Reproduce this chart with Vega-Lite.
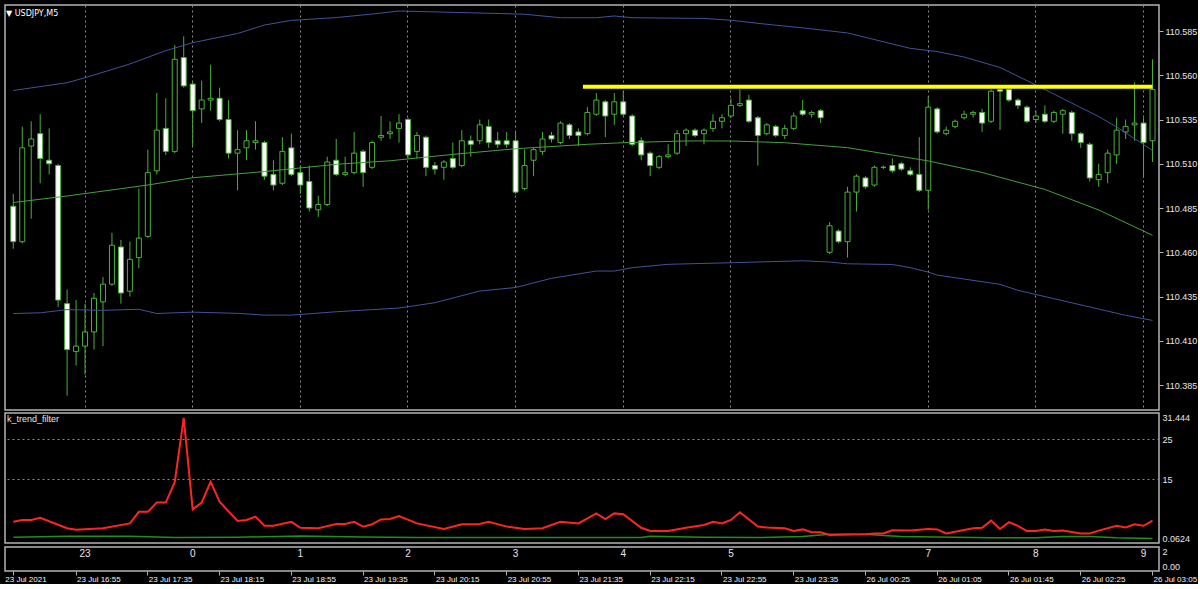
{
  "$schema": "https://vega.github.io/schema/vega-lite/v6.json",
  "background": "#000000",
  "padding": {"left": 4, "top": 4, "right": 0, "bottom": 0},
  "spacing": 1,
  "config": {
    "view": {"stroke": "#b4b4b4", "strokeWidth": 1.5},
    "axis": {"labelFont": "Liberation Sans", "labelColor": "#e8e8e8", "labelFontSize": 9, "title": null, "tickColor": "#b4b4b4"}
  },
  "resolve": {"scale": {"x": "shared", "y": "independent"}},
  "datasets": {
    "bars": [
      {"t":"23 Jul 16:20","o":110.486,"h":110.493,"l":110.462,"c":110.466,"u":110.5514,"lo":110.4254,"ma":110.4881,"k":4.3,"g":0.45},
      {"t":"23 Jul 16:25","o":110.466,"h":110.531,"l":110.465,"c":110.519,"k":4.75},
      {"t":"23 Jul 16:30","o":110.520,"h":110.534,"l":110.479,"c":110.524,"k":4.75},
      {"t":"23 Jul 16:35","o":110.527,"h":110.538,"l":110.499,"c":110.513,"lo":110.4258,"k":5.3},
      {"t":"23 Jul 16:40","o":110.512,"h":110.530,"l":110.504,"c":110.510},
      {"t":"23 Jul 16:45","o":110.509,"h":110.510,"l":110.429,"c":110.433},
      {"t":"23 Jul 16:50","o":110.431,"h":110.439,"l":110.379,"c":110.405,"u":110.5558,"lo":110.4276,"ma":110.4918,"k":2.7,"g":0.7},
      {"t":"23 Jul 16:55","o":110.404,"h":110.433,"l":110.396,"c":110.407,"k":2.3},
      {"t":"23 Jul 17:00","o":110.407,"h":110.431,"l":110.391,"c":110.415,"u":110.5586},
      {"t":"23 Jul 17:05","o":110.415,"h":110.437,"l":110.405,"c":110.434},
      {"t":"23 Jul 17:10","o":110.432,"h":110.446,"l":110.407,"c":110.442,"lo":110.4272,"k":2.7},
      {"t":"23 Jul 17:15","o":110.442,"h":110.471,"l":110.441,"c":110.464},
      {"t":"23 Jul 17:20","o":110.463,"h":110.467,"l":110.431,"c":110.437},
      {"t":"23 Jul 17:25","o":110.438,"h":110.466,"l":110.435,"c":110.456,"u":110.5664,"k":3.9,"g":0.7},
      {"t":"23 Jul 17:30","o":110.457,"h":110.496,"l":110.451,"c":110.468,"lo":110.4278,"k":6.8},
      {"t":"23 Jul 17:35","o":110.469,"h":110.518,"l":110.468,"c":110.505,"ma":110.498,"k":6.8},
      {"t":"23 Jul 17:40","o":110.506,"h":110.550,"l":110.504,"c":110.529,"lo":110.4254,"k":9.1},
      {"t":"23 Jul 17:45","o":110.530,"h":110.547,"l":110.515,"c":110.517,"u":110.5739,"k":9.1},
      {"t":"23 Jul 17:50","o":110.517,"h":110.577,"l":110.516,"c":110.569,"k":14.2,"g":0.4},
      {"t":"23 Jul 17:55","o":110.570,"h":110.582,"l":110.553,"c":110.554,"k":30.3},
      {"t":"23 Jul 18:00","o":110.555,"h":110.556,"l":110.520,"c":110.540,"u":110.5784,"lo":110.4262,"ma":110.5021,"k":7.4},
      {"t":"23 Jul 18:05","o":110.541,"h":110.557,"l":110.533,"c":110.546,"k":9.1},
      {"t":"23 Jul 18:10","o":110.546,"h":110.566,"l":110.540,"c":110.547,"k":14.3},
      {"t":"23 Jul 18:15","o":110.547,"h":110.553,"l":110.534,"c":110.535,"k":9.3},
      {"t":"23 Jul 18:20","o":110.535,"h":110.546,"l":110.513,"c":110.516},
      {"t":"23 Jul 18:25","o":110.516,"h":110.529,"l":110.495,"c":110.518,"u":110.5836,"lo":110.4255,"k":4.5,"g":0.45},
      {"t":"23 Jul 18:30","o":110.519,"h":110.529,"l":110.512,"c":110.523,"k":4.75},
      {"t":"23 Jul 18:35","o":110.522,"h":110.534,"l":110.518,"c":110.523,"k":5.6},
      {"t":"23 Jul 18:40","o":110.522,"h":110.523,"l":110.501,"c":110.503,"u":110.5884,"lo":110.4245,"ma":110.5056,"k":3.3},
      {"t":"23 Jul 18:45","o":110.504,"h":110.512,"l":110.495,"c":110.498,"k":3.3},
      {"t":"23 Jul 18:50","o":110.499,"h":110.525,"l":110.498,"c":110.517},
      {"t":"23 Jul 18:55","o":110.519,"h":110.527,"l":110.503,"c":110.504,"u":110.591,"lo":110.4245,"k":4.3},
      {"t":"23 Jul 19:00","o":110.505,"h":110.509,"l":110.493,"c":110.498,"k":2.8,"g":0.75},
      {"t":"23 Jul 19:05","o":110.500,"h":110.509,"l":110.483,"c":110.485},
      {"t":"23 Jul 19:10","o":110.484,"h":110.492,"l":110.480,"c":110.487,"k":2.7},
      {"t":"23 Jul 19:15","o":110.487,"h":110.514,"l":110.486,"c":110.511},
      {"t":"23 Jul 19:20","o":110.512,"h":110.524,"l":110.503,"c":110.504,"u":110.5926,"lo":110.4264,"ma":110.5097,"k":3.75},
      {"t":"23 Jul 19:25","o":110.504,"h":110.514,"l":110.503,"c":110.505,"k":3.75},
      {"t":"23 Jul 19:30","o":110.505,"h":110.528,"l":110.504,"c":110.516,"k":4.3},
      {"t":"23 Jul 19:35","o":110.517,"h":110.518,"l":110.497,"c":110.505,"k":3.1,"g":0.5},
      {"t":"23 Jul 19:40","o":110.508,"h":110.523,"l":110.507,"c":110.522,"u":110.5946,"k":3.7},
      {"t":"23 Jul 19:45","o":110.525,"h":110.537,"l":110.523,"c":110.526,"k":4.9},
      {"t":"23 Jul 19:50","o":110.527,"h":110.534,"l":110.524,"c":110.528,"ma":110.5117,"k":5},
      {"t":"23 Jul 19:55","o":110.530,"h":110.538,"l":110.522,"c":110.533,"u":110.5963,"lo":110.4285,"k":5.75},
      {"t":"23 Jul 20:00","o":110.535,"h":110.536,"l":110.513,"c":110.515},
      {"t":"23 Jul 20:05","o":110.517,"h":110.528,"l":110.513,"c":110.526,"k":3.9,"g":0.35},
      {"t":"23 Jul 20:10","o":110.525,"h":110.526,"l":110.503,"c":110.508},
      {"t":"23 Jul 20:15","o":110.509,"h":110.511,"l":110.504,"c":110.507,"lo":110.4315},
      {"t":"23 Jul 20:20","o":110.508,"h":110.512,"l":110.501,"c":110.511,"k":2.5},
      {"t":"23 Jul 20:25","o":110.513,"h":110.522,"l":110.507,"c":110.508,"ma":110.5153},
      {"t":"23 Jul 20:30","o":110.509,"h":110.529,"l":110.508,"c":110.523,"k":3.7},
      {"t":"23 Jul 20:35","o":110.523,"h":110.526,"l":110.514,"c":110.521,"u":110.5953},
      {"t":"23 Jul 20:40","o":110.523,"h":110.535,"l":110.521,"c":110.532,"lo":110.4381,"k":3.75},
      {"t":"23 Jul 20:45","o":110.531,"h":110.535,"l":110.519,"c":110.522,"k":4.3},
      {"t":"23 Jul 20:50","o":110.523,"h":110.528,"l":110.519,"c":110.521,"g":0.4},
      {"t":"23 Jul 20:55","o":110.523,"h":110.528,"l":110.519,"c":110.521,"k":3.1},
      {"t":"23 Jul 21:00","o":110.523,"h":110.528,"l":110.493,"c":110.494,"lo":110.4401,"ma":110.5185},
      {"t":"23 Jul 21:05","o":110.496,"h":110.518,"l":110.495,"c":110.509,"u":110.5945,"k":2.5},
      {"t":"23 Jul 21:10","o":110.512,"h":110.519,"l":110.503,"c":110.518},
      {"t":"23 Jul 21:15","o":110.517,"h":110.528,"l":110.515,"c":110.524,"k":2.7},
      {"t":"23 Jul 21:20","o":110.526,"h":110.528,"l":110.522,"c":110.524,"lo":110.4453},
      {"t":"23 Jul 21:25","o":110.522,"h":110.534,"l":110.521,"c":110.533,"u":110.5925,"k":4.3,"g":0.35},
      {"t":"23 Jul 21:30","o":110.532,"h":110.533,"l":110.524,"c":110.526},
      {"t":"23 Jul 21:35","o":110.528,"h":110.530,"l":110.520,"c":110.526,"k":3.9},
      {"t":"23 Jul 21:40","o":110.527,"h":110.542,"l":110.526,"c":110.539,"ma":110.521},
      {"t":"23 Jul 21:45","o":110.538,"h":110.550,"l":110.537,"c":110.546,"u":110.5925,"lo":110.4494,"k":6.4},
      {"t":"23 Jul 21:50","o":110.545,"h":110.546,"l":110.525,"c":110.537,"k":5},
      {"t":"23 Jul 21:55","o":110.538,"h":110.550,"l":110.532,"c":110.545,"u":110.5935,"lo":110.4494,"k":6.4},
      {"t":"23 Jul 22:00","o":110.545,"h":110.551,"l":110.537,"c":110.538,"ma":110.5219,"k":6.2},
      {"t":"23 Jul 22:05","o":110.537,"h":110.538,"l":110.520,"c":110.521,"u":110.5925,"lo":110.4513},
      {"t":"23 Jul 22:10","o":110.523,"h":110.525,"l":110.512,"c":110.515,"k":2.8,"g":0.35},
      {"t":"23 Jul 22:15","o":110.516,"h":110.517,"l":110.503,"c":110.509,"k":2,"g":0.7},
      {"t":"23 Jul 22:20","o":110.508,"h":110.515,"l":110.507,"c":110.514},
      {"t":"23 Jul 22:25","o":110.514,"h":110.521,"l":110.513,"c":110.515,"lo":110.4532,"k":2},
      {"t":"23 Jul 22:30","o":110.516,"h":110.529,"l":110.515,"c":110.527},
      {"t":"23 Jul 22:35","o":110.527,"h":110.530,"l":110.520,"c":110.529,"ma":110.5229,"k":2.8},
      {"t":"23 Jul 22:40","o":110.529,"h":110.530,"l":110.525,"c":110.526},
      {"t":"23 Jul 22:45","o":110.527,"h":110.530,"l":110.521,"c":110.529,"u":110.5921,"k":3.5,"g":0.45},
      {"t":"23 Jul 22:50","o":110.530,"h":110.538,"l":110.528,"c":110.534,"k":4.3},
      {"t":"23 Jul 22:55","o":110.534,"h":110.538,"l":110.530,"c":110.536,"k":3.9},
      {"t":"23 Jul 23:00","o":110.537,"h":110.547,"l":110.536,"c":110.543,"u":110.5911,"lo":110.4541,"ma":110.5229,"k":4.75},
      {"t":"23 Jul 23:05","o":110.543,"h":110.552,"l":110.542,"c":110.544,"k":6.7},
      {"t":"23 Jul 23:10","o":110.546,"h":110.549,"l":110.533,"c":110.534},
      {"t":"23 Jul 23:15","o":110.536,"h":110.537,"l":110.509,"c":110.526,"k":3.1,"g":0.35},
      {"t":"23 Jul 23:20","o":110.527,"h":110.533,"l":110.526,"c":110.532,"u":110.5888,"k":2.9},
      {"t":"23 Jul 23:25","o":110.531,"h":110.532,"l":110.525,"c":110.526},
      {"t":"23 Jul 23:30","o":110.526,"h":110.532,"l":110.524,"c":110.530,"ma":110.5219,"k":2.7},
      {"t":"23 Jul 23:35","o":110.530,"h":110.539,"l":110.529,"c":110.537,"k":2},
      {"t":"23 Jul 23:40","o":110.540,"h":110.546,"l":110.537,"c":110.538,"u":110.5868,"lo":110.4552,"k":2.4,"g":0.6},
      {"t":"23 Jul 23:45","o":110.538,"h":110.540,"l":110.536,"c":110.539,"k":1.7},
      {"t":"23 Jul 23:50","o":110.540,"h":110.541,"l":110.533,"c":110.536,"k":1.7},
      {"t":"26 Jul 00:05","o":110.460,"h":110.477,"l":110.459,"c":110.475,"lo":110.4545,"k":1.0,"g":1.2},
      {"t":"26 Jul 00:10","o":110.472,"h":110.473,"l":110.465,"c":110.466},
      {"t":"26 Jul 00:15","o":110.466,"h":110.497,"l":110.457,"c":110.494,"u":110.5839,"lo":110.4535,"ma":110.5191},
      {"t":"26 Jul 00:20","o":110.494,"h":110.504,"l":110.483,"c":110.503},
      {"t":"26 Jul 00:25","o":110.502,"h":110.503,"l":110.496,"c":110.497,"k":1.2,"g":1.2},
      {"t":"26 Jul 00:30","o":110.498,"h":110.509,"l":110.497,"c":110.508,"k":1.4},
      {"t":"26 Jul 00:35","o":110.508,"h":110.509,"l":110.507,"c":110.508,"k":1.4,"g":0.9},
      {"t":"26 Jul 00:40","o":110.509,"h":110.513,"l":110.505,"c":110.506,"lo":110.4531,"k":2.2},
      {"t":"26 Jul 00:45","o":110.510,"h":110.511,"l":110.506,"c":110.507,"g":0.6},
      {"t":"26 Jul 00:50","o":110.506,"h":110.508,"l":110.503,"c":110.504,"u":110.5752,"lo":110.4513,"k":2.1},
      {"t":"26 Jul 00:55","o":110.504,"h":110.525,"l":110.494,"c":110.495},
      {"t":"26 Jul 01:00","o":110.495,"h":110.548,"l":110.484,"c":110.542,"lo":110.4488,"ma":110.5116,"k":2.5},
      {"t":"26 Jul 01:05","o":110.541,"h":110.542,"l":110.527,"c":110.528,"u":110.5734,"lo":110.4471,"k":2.4,"g":0.5},
      {"t":"26 Jul 01:10","o":110.527,"h":110.531,"l":110.526,"c":110.529,"k":1.4},
      {"t":"26 Jul 01:15","o":110.531,"h":110.535,"l":110.530,"c":110.534},
      {"t":"26 Jul 01:20","o":110.536,"h":110.540,"l":110.535,"c":110.538,"u":110.5703,"k":2.25},
      {"t":"26 Jul 01:25","o":110.538,"h":110.540,"l":110.536,"c":110.539,"k":2.7},
      {"t":"26 Jul 01:30","o":110.539,"h":110.541,"l":110.528,"c":110.533,"ma":110.5051,"k":2.8},
      {"t":"26 Jul 01:35","o":110.534,"h":110.552,"l":110.533,"c":110.551,"k":4.6,"g":0.33},
      {"t":"26 Jul 01:40","o":110.552,"h":110.553,"l":110.529,"c":110.551,"u":110.5644,"lo":110.4419,"k":2.5},
      {"t":"26 Jul 01:45","o":110.552,"h":110.553,"l":110.545,"c":110.546,"k":4.2},
      {"t":"26 Jul 01:50","o":110.546,"h":110.547,"l":110.541,"c":110.543,"lo":110.4385,"k":3.3},
      {"t":"26 Jul 01:55","o":110.542,"h":110.543,"l":110.533,"c":110.534,"k":2},
      {"t":"26 Jul 02:00","o":110.535,"h":110.540,"l":110.533,"c":110.537,"u":110.5545,"k":2,"g":0.33},
      {"t":"26 Jul 02:05","o":110.538,"h":110.543,"l":110.533,"c":110.534,"ma":110.4955,"k":2.4},
      {"t":"26 Jul 02:10","o":110.534,"h":110.540,"l":110.533,"c":110.539,"lo":110.4338,"k":2},
      {"t":"26 Jul 02:15","o":110.538,"h":110.541,"l":110.527,"c":110.540,"k":2.1,"g":0.6},
      {"t":"26 Jul 02:20","o":110.539,"h":110.540,"l":110.523,"c":110.527,"u":110.5443},
      {"t":"26 Jul 02:25","o":110.527,"h":110.528,"l":110.519,"c":110.522,"k":1.4},
      {"t":"26 Jul 02:30","o":110.521,"h":110.522,"l":110.500,"c":110.502,"lo":110.4291,"k":1.4,"g":0.6},
      {"t":"26 Jul 02:35","o":110.501,"h":110.510,"l":110.497,"c":110.504,"u":110.5367,"ma":110.4839,"k":2.1},
      {"t":"26 Jul 02:40","o":110.505,"h":110.518,"l":110.499,"c":110.516},
      {"t":"26 Jul 02:45","o":110.515,"h":110.536,"l":110.510,"c":110.529,"u":110.5308,"k":3.3,"g":0.3},
      {"t":"26 Jul 02:50","o":110.528,"h":110.535,"l":110.524,"c":110.531,"lo":110.4244,"k":2.9},
      {"t":"26 Jul 02:55","o":110.532,"h":110.556,"l":110.523,"c":110.533,"k":3.7},
      {"t":"26 Jul 03:00","o":110.533,"h":110.536,"l":110.502,"c":110.522,"k":3.3},
      {"t":"26 Jul 03:05","o":110.523,"h":110.569,"l":110.511,"c":110.552,"u":110.5175,"lo":110.4215,"ma":110.4696,"k":4.6,"g":0.15}
    ],
    "level": [{"t1": "23 Jul 21:35", "t2": "26 Jul 03:05", "p": 110.5535}],
    "hours": [
      {"t": "23 Jul 17:00", "hr": "23"},
      {"t": "23 Jul 18:00", "hr": "0"},
      {"t": "23 Jul 19:00", "hr": "1"},
      {"t": "23 Jul 20:00", "hr": "2"},
      {"t": "23 Jul 21:00", "hr": "3"},
      {"t": "23 Jul 22:00", "hr": "4"},
      {"t": "23 Jul 23:00", "hr": "5"},
      {"t": "26 Jul 01:00", "hr": "7"},
      {"t": "26 Jul 02:00", "hr": "8"},
      {"t": "26 Jul 03:00", "hr": "9"}
    ]
  },
  "vconcat": [
    {
      "width": 1154,
      "height": 405,
      "title": {"text": "▼ USDJPY,M5", "anchor": "start", "frame": "group", "offset": -13, "dx": 1, "font": "DejaVu Sans", "fontSize": 8, "fontWeight": "normal", "color": "#ffffff"},
      "data": {"name": "bars"},
      "encoding": {
        "x": {"field": "t", "type": "ordinal", "bandPosition": 0.5,
              "scale": {"paddingInner": 0, "paddingOuter": 0.323, "align": 0.655},
              "axis": {"values": ["23 Jul 17:00", "23 Jul 18:00", "23 Jul 19:00", "23 Jul 20:00", "23 Jul 21:00", "23 Jul 22:00", "23 Jul 23:00", "26 Jul 01:00", "26 Jul 02:00", "26 Jul 03:00"],
                       "labels": false, "ticks": false, "domain": false, "grid": true, "gridDash": [2, 3], "gridColor": "#8a8a8a", "gridWidth": 1, "bandPosition": 0.5}}
      },
      "layer": [
        {
          "mark": {"type": "rule", "color": "#4caf3a", "strokeWidth": 1},
          "encoding": {
            "y": {"field": "l", "type": "quantitative",
                  "scale": {"domain": [110.3709, 110.5997], "nice": false, "zero": false},
                  "axis": {"orient": "right", "values": [110.385, 110.41, 110.435, 110.46, 110.485, 110.51, 110.535, 110.56, 110.585], "format": ".3f", "grid": false, "domain": false, "tickSize": 4, "labelPadding": 2}},
            "y2": {"field": "h"}
          }
        },
        {
          "mark": {"type": "bar", "width": 5, "stroke": "#4caf3a", "strokeWidth": 1},
          "encoding": {
            "y": {"field": "o", "type": "quantitative"},
            "y2": {"field": "c"},
            "fill": {"condition": {"test": "datum.o > datum.c", "value": "#ffffff"}, "value": "#000000"}
          }
        },
        {
          "transform": [{"filter": "isValid(datum.u)"}],
          "mark": {"type": "line", "color": "#40539a", "strokeWidth": 1},
          "encoding": {"y": {"field": "u", "type": "quantitative"}}
        },
        {
          "transform": [{"filter": "isValid(datum.lo)"}],
          "mark": {"type": "line", "color": "#40539a", "strokeWidth": 1},
          "encoding": {"y": {"field": "lo", "type": "quantitative"}}
        },
        {
          "transform": [{"filter": "isValid(datum.ma)"}],
          "mark": {"type": "line", "color": "#45a03f", "strokeWidth": 1},
          "encoding": {"y": {"field": "ma", "type": "quantitative"}}
        },
        {
          "data": {"name": "level"},
          "mark": {"type": "rule", "color": "#ffff00", "strokeWidth": 4},
          "encoding": {
            "x": {"field": "t1", "type": "ordinal", "bandPosition": 1},
            "x2": {"field": "t2"},
            "y": {"field": "p", "type": "quantitative"}
          }
        }
      ]
    },
    {
      "width": 1154,
      "height": 130,
      "title": {"text": "k_trend_filter", "anchor": "start", "frame": "group", "offset": -11, "dx": 2, "font": "Liberation Sans", "fontSize": 9, "fontWeight": "normal", "color": "#e8e8e8"},
      "data": {"name": "bars"},
      "encoding": {
        "x": {"field": "t", "type": "ordinal", "axis": null}
      },
      "layer": [
        {
          "transform": [{"filter": "isValid(datum.g)"}],
          "mark": {"type": "line", "color": "#1f8f1f", "strokeWidth": 1.5},
          "encoding": {
            "y": {"field": "g", "type": "quantitative",
                  "scale": {"domain": [-1, 31.5], "nice": false, "zero": false},
                  "axis": {"orient": "right", "values": [0.0624, 15, 25, 31.444], "labelExpr": "'' + datum.value", "domain": false, "ticks": false, "labelPadding": 3,
                           "grid": true, "gridDash": [2, 3], "gridColor": "#8a8a8a",
                           "gridOpacity": {"condition": {"test": "datum.value == 15 || datum.value == 25", "value": 1}, "value": 0},
                           "labelBaseline": {"condition": {"test": "datum.value > 30", "value": "top"}, "value": "middle"}}}
          }
        },
        {
          "transform": [{"filter": "isValid(datum.k)"}],
          "mark": {"type": "line", "color": "#ff2424", "strokeWidth": 2},
          "encoding": {"y": {"field": "k", "type": "quantitative"}}
        }
      ]
    },
    {
      "width": 1154,
      "height": 24,
      "data": {"name": "hours"},
      "mark": {"type": "text", "color": "#e8e8e8", "font": "Liberation Sans", "fontSize": 10, "baseline": "middle", "align": "center"},
      "encoding": {
        "x": {"field": "t", "type": "ordinal",
              "axis": {"values": ["23 Jul 16:20", "23 Jul 16:55", "23 Jul 17:35", "23 Jul 18:15", "23 Jul 18:55", "23 Jul 19:35", "23 Jul 20:15", "23 Jul 20:55", "23 Jul 21:35", "23 Jul 22:15", "23 Jul 22:55", "23 Jul 23:35", "26 Jul 00:25", "26 Jul 01:05", "26 Jul 01:45", "26 Jul 02:25", "26 Jul 03:05"],
                       "labelExpr": "datum.value == '23 Jul 16:20' ? '23 Jul 2021' : datum.value",
                       "labelFontSize": 8, "labelColor": "#f4f4f4", "labelAngle": 0, "labelAlign": "left", "labelBaseline": "top", "labelPadding": 0,
                       "labelOffset": {"condition": {"test": "datum.value == '23 Jul 16:20'", "value": -8}, "value": 1},
                       "tickSize": 4, "domain": false, "labelOverlap": false, "bandPosition": 0.5}},
        "y": {"datum": 1.42, "type": "quantitative",
              "scale": {"domain": [0, 2], "nice": false, "zero": false},
              "axis": {"orient": "right", "values": [0, 2], "labelExpr": "datum.value == 0 ? '0.00' : '2'", "ticks": false, "domain": false, "grid": false, "labelPadding": 3,
                       "labelBaseline": {"condition": {"test": "datum.value == 0", "value": "bottom"}, "value": "top"}}},
        "text": {"field": "hr"}
      }
    }
  ]
}
